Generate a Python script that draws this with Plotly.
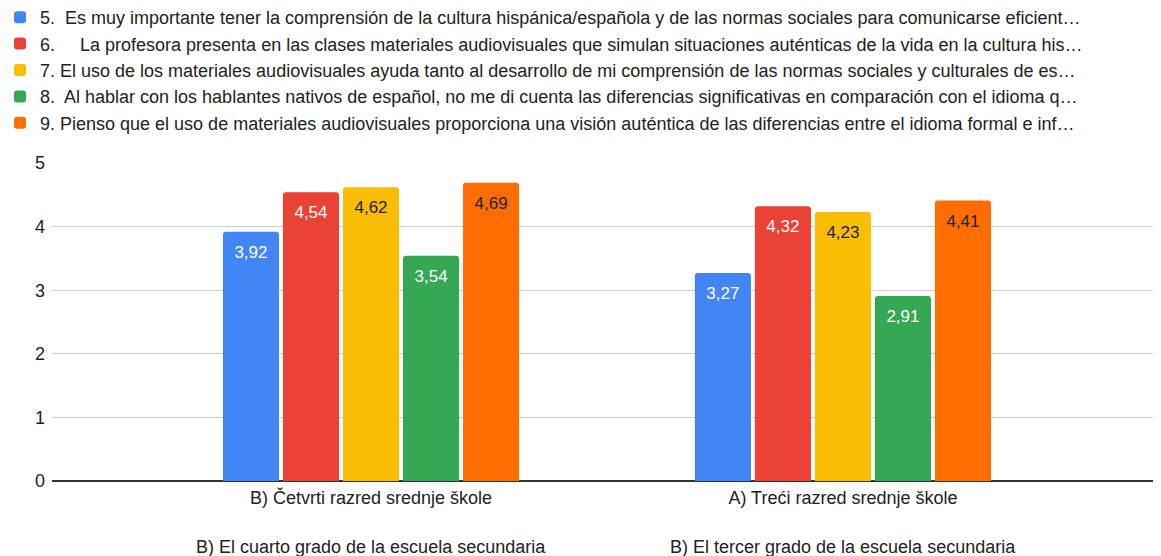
import plotly.graph_objects as go

categories = ["B) Četvrti razred srednje škole", "A) Treći razred srednje škole"]
sub_labels = ["B) El cuarto grado de la escuela secundaria", "B) El tercer grado de la escuela secundaria"]

series_names = [
    "5.  Es muy importante tener la comprensión de la cultura hispánica/española y de las normas sociales para comunicarse eficient…",
    "6.     La profesora presenta en las clases materiales audiovisuales que simulan situaciones auténticas de la vida en la cultura his…",
    "7. El uso de los materiales audiovisuales ayuda tanto al desarrollo de mi comprensión de las normas sociales y culturales de es…",
    "8.  Al hablar con los hablantes nativos de español, no me di cuenta las diferencias significativas en comparación con el idioma q…",
    "9. Pienso que el uso de materiales audiovisuales proporciona una visión auténtica de las diferencias entre el idioma formal e inf…",
]
values = [
    [3.92, 3.27],
    [4.54, 4.32],
    [4.62, 4.23],
    [3.54, 2.91],
    [4.69, 4.41],
]
colors = ["#4285F4", "#EA4335", "#FBBC04", "#34A853", "#FF6D01"]
text_colors = ["#ffffff", "#ffffff", "#222222", "#ffffff", "#222222"]

FONT = "Arial, Liberation Sans, sans-serif"
FS = 18

# figure is placed at (8, 8) in the page by the default body margin
W, H = 1153, 548
L, R, T, B = 44, 0, 155, 75
PH = H - T - B
PW = W - L - R

fig = go.Figure()
for name, vals, col, tcol in zip(series_names, values, colors, text_colors):
    fig.add_trace(go.Bar(
        x=categories, y=vals, name=name,
        marker=dict(color=col, line=dict(width=0)),
        texttemplate="<span style='font-size:1px'> </span><br>%{y:.2f}",
        textposition="inside", insidetextanchor="end",
        textangle=0,
        textfont=dict(family=FONT, size=17, color=tcol),
        cliponaxis=False,
    ))

for cat, lab in zip(categories, sub_labels):
    fig.add_annotation(x=cat, y=(H - B - (547 - 8)) / PH, xref="x", yref="paper", text=lab,
                       showarrow=False, yanchor="middle", xanchor="center",
                       font=dict(family=FONT, size=FS, color="#222222"))

fig.update_layout(
    width=W, height=H,
    margin=dict(l=L, r=R, t=T, b=B, autoexpand=False),
    paper_bgcolor="white", plot_bgcolor="white",
    separators=", ",
    barmode="group", bargap=0.364, bargroupgap=0.066,
    barcornerradius=3,
    font=dict(family=FONT, size=FS, color="#222222"),
    showlegend=True,
    legend=dict(xref="paper", yref="paper", x=(-8 - L) / PW, y=1 + (T + 9) / PH,
                xanchor="left", yanchor="top", orientation="v",
                font=dict(family=FONT, size=FS, color="#222222"),
                traceorder="normal", bgcolor="rgba(0,0,0,0)", itemclick=False,
                tracegroupgap=0),
)
fig.update_xaxes(type="category", range=[-0.676, 1.674], showgrid=False, ticks="",
                 tickangle=0, automargin=False, ticklabelstandoff=4,
                 tickfont=dict(family=FONT, size=FS, color="#222222"), showline=False)
fig.update_yaxes(range=[0, 5], tickvals=[0, 1, 2, 3, 4, 5], showgrid=True, gridcolor="#cccccc",
                 gridwidth=1, zeroline=True, zerolinecolor="#333333", zerolinewidth=1.5,
                 automargin=False,
                 tickfont=dict(family=FONT, size=FS, color="#222222"), ticks="", ticklabelstandoff=6)

fig.write_html("out.html")
